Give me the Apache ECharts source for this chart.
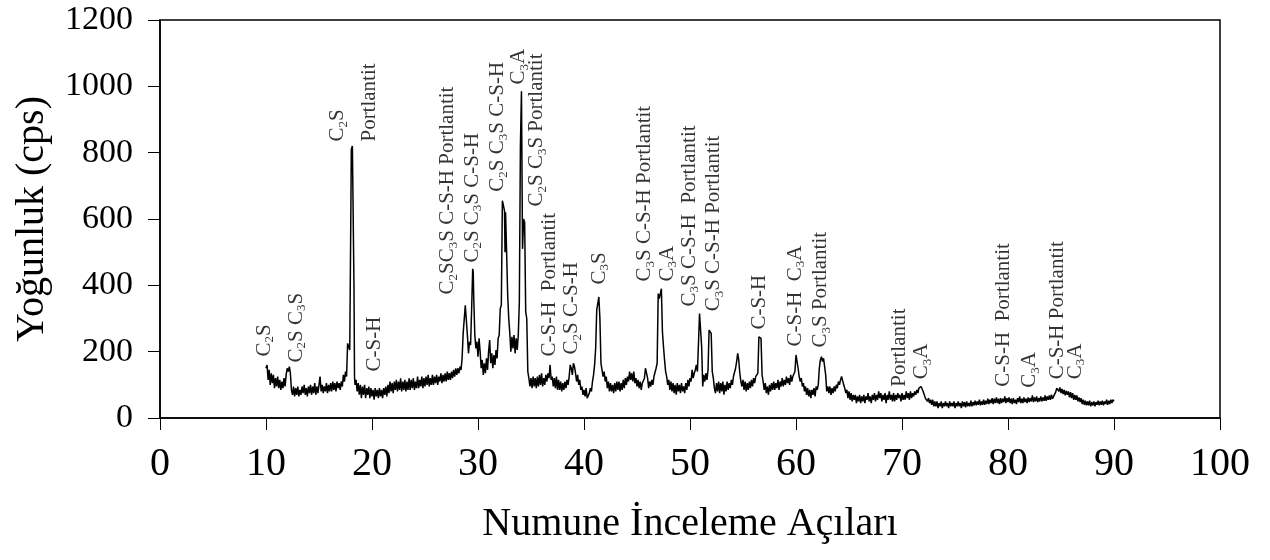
<!DOCTYPE html>
<html>
<head>
<meta charset="utf-8">
<script src="https://cdn.jsdelivr.net/npm/echarts@6/dist/echarts.min.js"></script>
<style>html,body{margin:0;padding:0;background:#fff;}#c{width:1270px;height:560px;}</style>
</head>
<body>
<div id="c"></div>
<script>
// ---- data ----
const xTicks = [0, 10, 20, 30, 40, 50, 60, 70, 80, 90, 100];
const yTicks = [0, 200, 400, 600, 800, 1000, 1200];
const xTitle = 'Numune İnceleme Açıları';
const yTitle = 'Yoğunluk (cps)';

// [angle, counts]
const xrdPattern = [
[10.0,150],[10.1,160],[10.2,115],[10.3,145],[10.4,100],[10.5,135],[10.6,105],[10.7,130],[10.8,90],[10.9,120],
[11.0,95],[11.1,125],[11.2,90],[11.3,115],[11.4,85],[11.5,110],[11.6,90],[11.7,120],[11.8,95],[11.9,130],
[12.0,150],[12.1,140],[12.2,155],[12.3,135],[12.4,85],[12.5,70],[12.6,95],[12.7,65],[12.8,90],[12.9,70],
[13.0,95],[13.1,65],[13.2,85],[13.3,70],[13.4,95],[13.5,75],[13.6,100],[13.7,70],[13.8,90],[13.9,65],
[14.0,95],[14.1,75],[14.2,100],[14.3,70],[14.4,95],[14.5,75],[14.6,105],[14.7,70],[14.8,95],[14.9,75],
[15.0,100],[15.1,125],[15.2,80],[15.3,100],[15.4,75],[15.5,95],[15.6,80],[15.7,105],[15.8,75],[15.9,100],
[16.0,80],[16.1,105],[16.2,80],[16.3,110],[16.4,85],[16.5,105],[16.6,80],[16.7,110],[16.8,90],[16.9,105],
[17.0,85],[17.1,110],[17.2,95],[17.3,130],[17.4,110],[17.5,140],[17.6,125],[17.7,225],[17.8,230],[17.9,205],
[18.0,600],[18.05,810],[18.15,820],[18.25,815],[18.3,400],[18.35,125],[18.4,100],[18.5,115],[18.6,80],[18.7,105],
[18.8,70],[18.9,100],[19.0,60],[19.1,95],[19.2,70],[19.3,100],[19.4,60],[19.5,90],[19.6,70],[19.7,95],
[19.8,60],[19.9,90],[20.0,65],[20.1,85],[20.2,55],[20.3,90],[20.4,65],[20.5,85],[20.6,60],[20.7,90],
[20.8,65],[20.9,85],[21.0,60],[21.1,90],[21.2,70],[21.3,95],[21.4,65],[21.5,100],[21.6,75],[21.7,110],
[21.8,80],[21.9,105],[22.0,75],[22.1,110],[22.2,85],[22.3,115],[22.4,80],[22.5,110],[22.6,85],[22.7,120],
[22.8,80],[22.9,110],[23.0,85],[23.1,115],[23.2,80],[23.3,110],[23.4,85],[23.5,120],[23.6,85],[23.7,115],
[23.8,90],[23.9,120],[24.0,85],[24.1,110],[24.2,90],[24.3,125],[24.4,90],[24.5,115],[24.6,95],[24.7,125],
[24.8,90],[24.9,120],[25.0,95],[25.1,125],[25.2,100],[25.3,130],[25.4,95],[25.5,120],[25.6,100],[25.7,130],
[25.8,100],[25.9,125],[26.0,105],[26.1,130],[26.2,100],[26.3,125],[26.4,110],[26.5,135],[26.6,105],[26.7,130],
[26.8,110],[26.9,135],[27.0,110],[27.1,140],[27.2,115],[27.3,135],[27.4,115],[27.5,140],[27.6,120],[27.7,145],
[27.8,125],[27.9,150],[28.0,130],[28.1,150],[28.2,135],[28.3,155],[28.4,145],[28.5,180],[28.6,255],[28.7,260],
[28.8,340],[28.9,345],[29.0,250],[29.1,195],[29.2,230],[29.3,220],[29.4,330],[29.5,450],[29.55,440],[29.6,360],
[29.7,250],[29.8,210],[29.9,230],[30.0,185],[30.1,240],[30.2,200],[30.3,150],[30.4,175],[30.5,130],[30.6,165],
[30.7,135],[30.8,180],[30.9,145],[31.0,200],[31.1,235],[31.2,165],[31.3,195],[31.4,150],[31.5,190],[31.6,160],
[31.7,205],[31.8,180],[31.9,240],[32.0,250],[32.1,330],[32.2,340],[32.3,655],[32.4,650],[32.5,625],[32.55,500],
[32.6,620],[32.7,500],[32.8,370],[32.9,300],[33.0,255],[33.1,200],[33.2,245],[33.3,210],[33.4,250],[33.5,195],
[33.6,240],[33.7,205],[33.8,250],[33.9,350],[34.0,820],[34.1,985],[34.15,990],[34.2,510],[34.3,600],[34.4,590],
[34.5,320],[34.6,300],[34.7,140],[34.8,120],[34.9,95],[35.0,120],[35.1,90],[35.2,125],[35.3,95],[35.4,120],
[35.5,90],[35.6,125],[35.7,95],[35.8,130],[35.9,100],[36.0,135],[36.1,95],[36.2,120],[36.3,100],[36.4,130],
[36.5,110],[36.6,135],[36.7,120],[36.8,160],[36.9,115],[37.0,125],[37.1,95],[37.2,120],[37.3,90],[37.4,125],
[37.5,85],[37.6,115],[37.7,85],[37.8,110],[37.9,80],[38.0,105],[38.1,85],[38.2,110],[38.3,90],[38.4,115],
[38.5,100],[38.6,125],[38.7,160],[38.8,150],[38.9,130],[39.0,165],[39.1,155],[39.2,135],[39.3,110],[39.4,130],
[39.5,100],[39.6,115],[39.7,85],[39.8,95],[39.9,70],[40.0,85],[40.1,65],[40.2,90],[40.3,60],[40.4,55],
[40.5,75],[40.6,90],[40.7,80],[40.8,110],[40.9,130],[41.0,160],[41.1,210],[41.2,325],[41.3,330],[41.4,365],
[41.5,300],[41.6,165],[41.7,145],[41.8,125],[41.9,140],[42.0,110],[42.1,125],[42.2,90],[42.3,110],[42.4,80],
[42.5,105],[42.6,80],[42.7,100],[42.8,75],[42.9,105],[43.0,80],[43.1,110],[43.2,85],[43.3,110],[43.4,80],
[43.5,105],[43.6,85],[43.7,115],[43.8,90],[43.9,120],[44.0,100],[44.1,125],[44.2,110],[44.3,140],[44.4,115],
[44.5,135],[44.6,110],[44.7,140],[44.8,105],[44.9,120],[45.0,95],[45.1,115],[45.2,90],[45.3,110],[45.4,85],
[45.5,105],[45.6,100],[45.7,120],[45.8,150],[45.9,155],[46.0,120],[46.1,90],[46.2,110],[46.3,95],[46.4,115],
[46.5,100],[46.6,125],[46.7,130],[46.8,150],[46.9,165],[47.0,375],[47.1,360],[47.2,365],[47.3,390],[47.4,260],
[47.5,215],[47.6,175],[47.7,140],[47.8,125],[47.9,100],[48.0,115],[48.1,85],[48.2,110],[48.3,80],[48.4,105],
[48.5,75],[48.6,100],[48.7,70],[48.8,105],[48.9,80],[49.0,100],[49.1,75],[49.2,105],[49.3,80],[49.4,95],
[49.5,75],[49.6,105],[49.7,85],[49.8,115],[49.9,95],[50.0,120],[50.1,110],[50.2,145],[50.3,120],[50.4,135],
[50.5,145],[50.6,160],[50.7,140],[50.8,225],[50.9,315],[51.0,310],[51.1,215],[51.2,95],[51.3,130],[51.4,110],
[51.5,135],[51.6,115],[51.7,145],[51.8,265],[51.9,270],[52.0,255],[52.1,140],[52.2,120],[52.3,90],[52.4,75],
[52.5,105],[52.6,80],[52.7,110],[52.8,75],[52.9,105],[53.0,80],[53.1,110],[53.2,70],[53.3,100],[53.4,80],
[53.5,110],[53.6,85],[53.7,105],[53.8,90],[53.9,115],[54.0,100],[54.1,125],[54.2,120],[54.3,150],[54.4,170],
[54.5,195],[54.6,175],[54.7,135],[54.8,110],[54.9,95],[55.0,115],[55.1,85],[55.2,110],[55.3,80],[55.4,105],
[55.5,85],[55.6,110],[55.7,90],[55.8,115],[55.9,95],[56.0,120],[56.1,105],[56.2,125],[56.3,120],[56.4,135],
[56.5,245],[56.6,250],[56.7,240],[56.8,130],[56.9,110],[57.0,85],[57.1,105],[57.2,75],[57.3,95],[57.4,70],
[57.5,100],[57.6,80],[57.7,105],[57.8,85],[57.9,110],[58.0,85],[58.1,105],[58.2,90],[58.3,115],[58.4,85],
[58.5,110],[58.6,95],[58.7,120],[58.8,95],[58.9,115],[59.0,100],[59.1,125],[59.2,105],[59.3,120],[59.4,100],
[59.5,130],[59.6,110],[59.7,125],[59.8,130],[59.9,140],[60.0,190],[60.1,195],[60.2,150],[60.3,125],[60.4,110],
[60.5,120],[60.6,95],[60.7,105],[60.8,80],[60.9,95],[61.0,70],[61.1,90],[61.2,65],[61.3,85],[61.4,60],
[61.5,85],[61.6,70],[61.7,90],[61.8,65],[61.9,95],[62.0,85],[62.1,100],[62.2,150],[62.3,175],[62.4,185],
[62.5,170],[62.6,180],[62.7,155],[62.8,130],[62.9,80],[63.0,95],[63.1,75],[63.2,95],[63.3,70],[63.4,90],
[63.5,75],[63.6,95],[63.7,80],[63.8,100],[63.9,90],[64.0,110],[64.1,100],[64.2,115],[64.3,125],[64.4,120],
[64.5,100],[64.6,90],[64.7,75],[64.8,85],[64.9,60],[65.0,80],[65.1,55],[65.2,75],[65.3,50],[65.4,70],
[65.5,55],[65.6,70],[65.7,45],[65.8,65],[65.9,50],[66.0,70],[66.1,45],[66.2,65],[66.3,50],[66.4,70],
[66.5,45],[66.6,65],[66.7,55],[66.8,75],[66.9,50],[67.0,65],[67.1,45],[67.2,70],[67.3,55],[67.4,75],
[67.5,50],[67.6,70],[67.7,55],[67.8,80],[67.9,60],[68.0,75],[68.1,50],[68.2,70],[68.3,55],[68.4,75],
[68.5,45],[68.6,70],[68.7,55],[68.8,80],[68.9,55],[69.0,70],[69.1,50],[69.2,75],[69.3,50],[69.4,70],
[69.5,55],[69.6,75],[69.7,60],[69.8,70],[69.9,50],[70.0,75],[70.1,55],[70.2,70],[70.3,55],[70.4,80],
[70.5,60],[70.6,75],[70.7,55],[70.8,80],[70.9,60],[71.0,75],[71.1,65],[71.2,80],[71.3,70],[71.4,85],
[71.5,75],[71.6,90],[71.7,85],[71.8,95],[71.9,90],[72.0,80],[72.1,70],[72.2,60],[72.3,65],[72.4,50],
[72.5,60],[72.6,45],[72.7,55],[72.8,40],[72.9,55],[73.0,35],[73.1,50],[73.2,35],[73.3,50],[73.4,30],
[73.5,45],[73.6,35],[73.7,50],[73.8,30],[73.9,45],[74.0,35],[74.1,50],[74.2,35],[74.3,45],[74.4,30],
[74.5,50],[74.6,35],[74.7,45],[74.8,35],[74.9,50],[75.0,30],[75.1,45],[75.2,35],[75.3,50],[75.4,35],
[75.5,45],[75.6,30],[75.7,50],[75.8,35],[75.9,48],[76.0,32],[76.1,50],[76.2,35],[76.3,45],[76.4,35],
[76.5,52],[76.6,35],[76.7,48],[76.8,38],[76.9,52],[77.0,38],[77.1,50],[77.2,40],[77.3,55],[77.4,38],
[77.5,50],[77.6,40],[77.7,55],[77.8,40],[77.9,52],[78.0,42],[78.1,58],[78.2,42],[78.3,55],[78.4,45],
[78.5,60],[78.6,42],[78.7,58],[78.8,45],[78.9,62],[79.0,45],[79.1,58],[79.2,42],[79.3,60],[79.4,45],
[79.5,58],[79.6,48],[79.7,65],[79.8,45],[79.9,60],[80.0,48],[80.1,62],[80.2,45],[80.3,58],[80.4,42],
[80.5,60],[80.6,45],[80.7,55],[80.8,42],[80.9,60],[81.0,48],[81.1,65],[81.2,45],[81.3,58],[81.4,45],
[81.5,62],[81.6,48],[81.7,58],[81.8,45],[81.9,62],[82.0,48],[82.1,60],[82.2,50],[82.3,68],[82.4,48],
[82.5,62],[82.6,50],[82.7,65],[82.8,48],[82.9,60],[83.0,50],[83.1,65],[83.2,50],[83.3,62],[83.4,52],
[83.5,68],[83.6,52],[83.7,65],[83.8,55],[83.9,68],[84.0,55],[84.1,70],[84.2,58],[84.3,65],[84.4,60],
[84.5,78],[84.6,90],[84.7,85],[84.8,80],[84.9,92],[85.0,75],[85.1,88],[85.2,72],[85.3,85],[85.4,68],
[85.5,82],[85.6,70],[85.7,80],[85.8,62],[85.9,78],[86.0,60],[86.1,75],[86.2,55],[86.3,70],[86.4,55],
[86.5,68],[86.6,50],[86.7,62],[86.8,48],[86.9,60],[87.0,42],[87.1,55],[87.2,40],[87.3,52],[87.4,38],
[87.5,50],[87.6,38],[87.7,52],[87.8,35],[87.9,48],[88.0,38],[88.1,50],[88.2,35],[88.3,48],[88.4,40],
[88.5,52],[88.6,38],[88.7,50],[88.8,40],[88.9,52],[89.0,38],[89.1,50],[89.2,42],[89.3,55],[89.4,40],
[89.5,52],[89.6,42],[89.7,55],[89.8,45],[89.9,55],[90.0,50]
];

// peak annotations: angle of text column, counts at text bottom, text
const labelAngle = [9.9, 12.9, 16.8, 19.8, 20.3, 27.2, 29.5, 31.9, 33.9, 35.6, 36.8, 38.9, 41.5, 45.8, 47.9, 50.0, 52.3, 56.6, 60.0, 62.4, 69.8, 71.9, 79.6, 82.1, 84.7, 86.4];
const labelBase  = [184, 166, 832, 832, 139, 371, 467, 681, 1004, 636, 184, 190, 401, 410, 410, 335, 320, 265, 214, 211, 93, 115, 93, 90, 115, 115];
const labelText  = [
  'C{s|2}S', 'C{s|2}S C{s|3}S', 'C{s|2}S', 'Portlantit', 'C-S-H',
  'C{s|2}SC{s|3}S C-S-H Portlantit', 'C{s|2}S C{s|3}S C-S-H', 'C{s|2}S C{s|3}S C-S-H', 'C{s|3}A',
  'C{s|2}S C{s|3}S Portlantit', 'C-S-H  Portlantit', 'C{s|2}S C-S-H', 'C{s|3}S',
  'C{s|3}S C-S-H Portlantit', 'C{s|3}A', 'C{s|3}S C-S-H  Portlantit', 'C{s|3}S C-S-H Portlantit',
  'C-S-H', 'C-S-H  C{s|3}A', 'C{s|3}S Portlantit', 'Portlantit', 'C{s|3}A',
  'C-S-H  Portlantit', 'C{s|3}A', 'C-S-H Portlantit', 'C{s|3}A'
];

// ---- chart ----
const FONT = "'Liberation Serif', 'Times New Roman', serif";
const labelData = labelAngle.map((a, i) => ({ value: [a, labelBase[i]], txt: labelText[i] }));

const chart = echarts.init(document.getElementById('c'), null, { renderer: 'canvas' });
chart.setOption({
  animation: false,
  backgroundColor: '#fff',
  grid: { left: 160, right: 50, top: 20, bottom: 142, show: true, borderColor: '#000', borderWidth: 1.5, backgroundColor: 'transparent' },
  xAxis: {
    type: 'value', min: xTicks[0], max: xTicks[xTicks.length - 1], interval: 10,
    name: xTitle, nameLocation: 'middle', nameGap: 86,
    nameTextStyle: { fontFamily: FONT, fontSize: 40, color: '#000' },
    axisLine: { show: true, lineStyle: { color: '#000', width: 1.5 } },
    axisTick: { show: true, length: 12, lineStyle: { color: '#000', width: 1 } },
    axisLabel: { fontFamily: FONT, fontSize: 40, color: '#000', margin: 26, formatter: v => String(v) },
    splitLine: { show: false }
  },
  yAxis: {
    type: 'value', min: yTicks[0], max: yTicks[yTicks.length - 1], interval: 200,
    name: yTitle, nameLocation: 'middle', nameGap: 108,
    nameTextStyle: { fontFamily: FONT, fontSize: 40, color: '#000' },
    axisLine: { show: true, lineStyle: { color: '#000', width: 1.5 } },
    axisTick: { show: true, length: 12, lineStyle: { color: '#000', width: 1 } },
    axisLabel: { fontFamily: FONT, fontSize: 34, color: '#000', margin: 27, formatter: v => String(v) },
    splitLine: { show: false }
  },
  series: [
    {
      type: 'line', data: xrdPattern, showSymbol: false, symbol: 'none',
      lineStyle: { color: '#000', width: 1.5 }, silent: true
    },
    {
      type: 'scatter', data: labelData, symbol: 'circle', symbolSize: 1,
      itemStyle: { color: 'rgba(0,0,0,0)' }, silent: true,
      label: {
        show: true, position: [0, 0], rotate: 90, align: 'left', verticalAlign: 'middle',
        fontFamily: FONT, fontSize: 21, lineHeight: 24, color: '#000',
        formatter: p => p.data.txt,
        rich: { s: { fontFamily: FONT, fontSize: 13, lineHeight: 13, verticalAlign: 'bottom', color: '#000' } }
      },
      labelLayout: { hideOverlap: false }
    }
  ]
});
</script>
</body>
</html>
